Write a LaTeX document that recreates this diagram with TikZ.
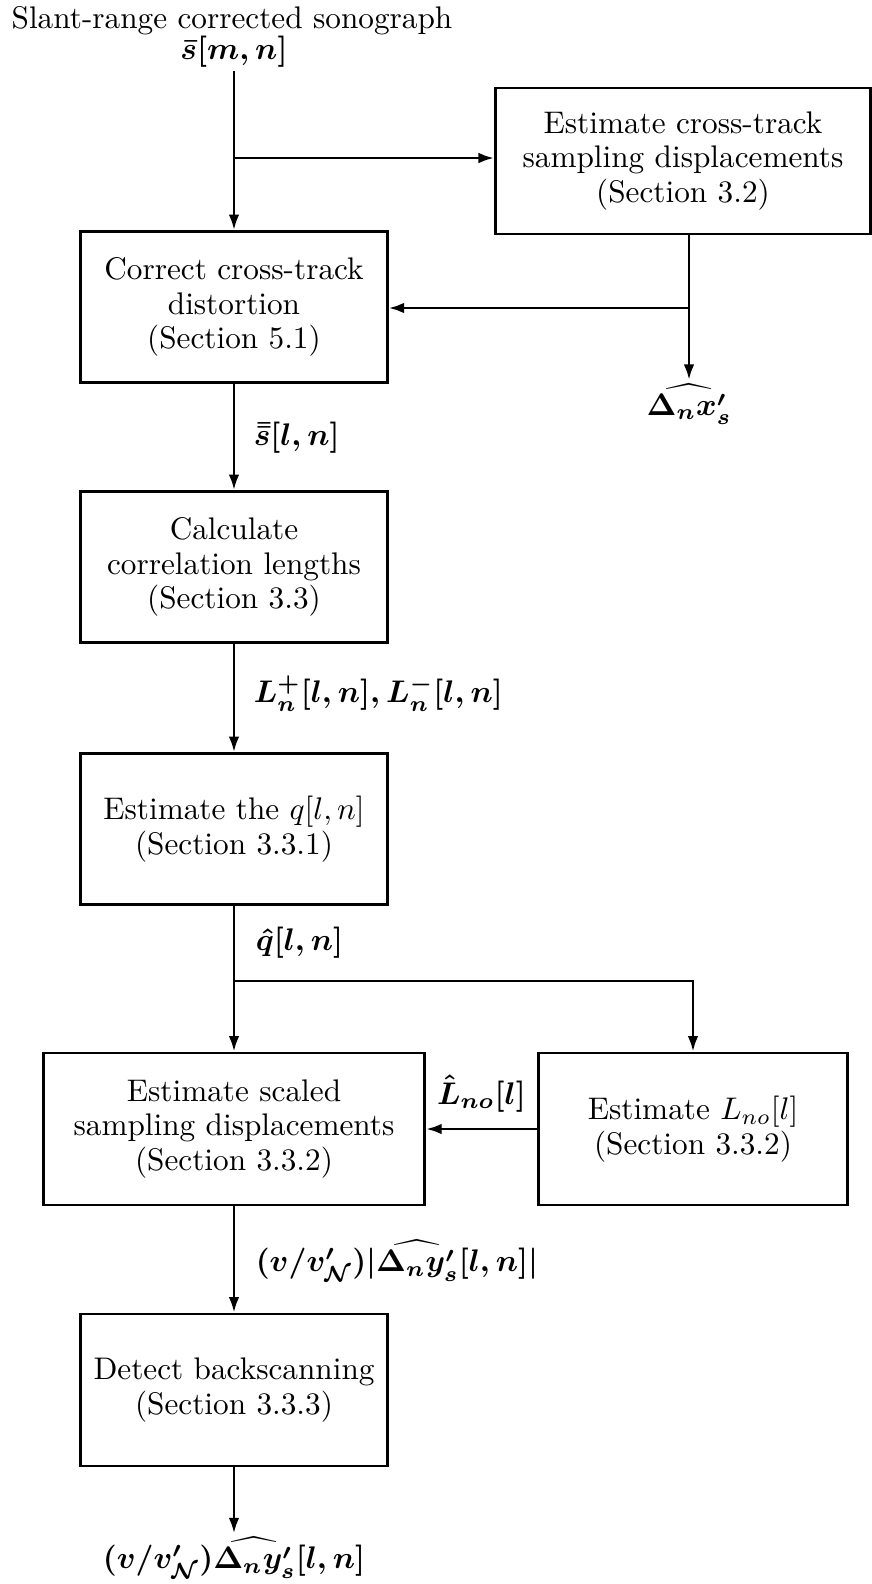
\documentclass[tikz,border=0pt]{standalone}
\usepackage{amsmath}
\usetikzlibrary{calc}
\usetikzlibrary{arrows.meta}
\usetikzlibrary{positioning}

\begin{document}
\begin{tikzpicture}[x=0.32pt,y=-0.32pt,
  block/.style={draw,line width=0.9pt,align=center,inner sep=0pt,
    font=\fontsize{10}{11}\selectfont},
  sig/.style={font=\boldmath,inner sep=1pt},
  wire/.style={line width=0.9pt},
  flow/.style={line width=0.9pt,-{Latex[length=5pt,width=3.4pt]}}]

\useasboundingbox (0,0) rectangle (872,1584);

% input
\node[inner sep=1pt,anchor=north] (title) at (232,3) {Slant-range corrected sonograph};
\node[sig,anchor=north] (smn) at (234,32) {$\bar{s}[m,n]$};

% blocks
\node[block,minimum width=120pt,minimum height=46.7pt] (xest) at (683,161)
  {Estimate cross-track\\sampling displacements\\(Section 3.2)};
\node[block,minimum width=98pt,minimum height=48.3pt] (xcor) at (234,307)
  {Correct cross-track\\distortion\\(Section 5.1)};
\node[block,minimum width=98pt,minimum height=48.3pt] (corr) at (234,567)
  {Calculate\\correlation lengths\\(Section 3.3)};
\node[block,minimum width=98pt,minimum height=48.3pt] (qest) at (234,829)
  {Estimate the $q[l,n]$\\(Section 3.3.1)};
\node[block,minimum width=122pt,minimum height=48.6pt] (yest) at (234,1129)
  {Estimate scaled\\sampling displacements\\(Section 3.3.2)};
\node[block,minimum width=99pt,minimum height=48.6pt] (lest) at (693,1129)
  {Estimate $L_{no}[l]$\\(Section 3.3.2)};
\node[block,minimum width=98pt,minimum height=48.6pt] (back) at (234,1390)
  {Detect backscanning\\(Section 3.3.3)};

% outputs
\node[sig,anchor=north] (dx) at (689,380) {$\widehat{\Delta_n x'_s}$};
\node[sig,anchor=south] (dy) at (234,1582) {$(v/v'_{\mathcal{N}})\widehat{\Delta_n y'_s}[l,n]$};

\coordinate (split1) at (234,158);
\coordinate (tap1) at (689,308);
\coordinate (split2) at (234,981);

\draw[wire] (smn) -- (split1);
\draw[flow] (split1) -- (xcor);
\draw[flow] (split1) -- (split1 -| xest.west);
\draw[wire] (xest.south -| tap1) -- (tap1);
\draw[flow] (tap1) -- (tap1 -| xcor.east);
\draw[flow] (tap1) -- (dx);

\draw[flow] (xcor) -- (corr);
\node[sig,anchor=west] (sll) at (250,438) {$\bar{\bar{s}}[l,n]$};
\draw[flow] (corr) -- (qest);
\node[sig,anchor=west] (lpm) at (250,694) {$L_n^+[l,n], L_n^-[l,n]$};

\draw[wire] (qest) -- (split2);
\node[sig,anchor=west] (qhat) at (252,943) {$\hat{q}[l,n]$};
\draw[flow] (split2) -- (yest);
\draw[flow] (split2) -| (lest);
\draw[flow] (lest) -- (lest.west -| yest.east)
  node[midway,above=4pt,sig] {$\hat{L}_{no}[l]$};

\draw[flow] (yest) -- (back);
\node[sig,anchor=west] (yabs) at (252,1261)
  {$(v/v'_{\mathcal{N}})|\widehat{\Delta_n y'_s}[l,n]|$};
\draw[flow] (back) -- (dy);

\end{tikzpicture}
\end{document}
